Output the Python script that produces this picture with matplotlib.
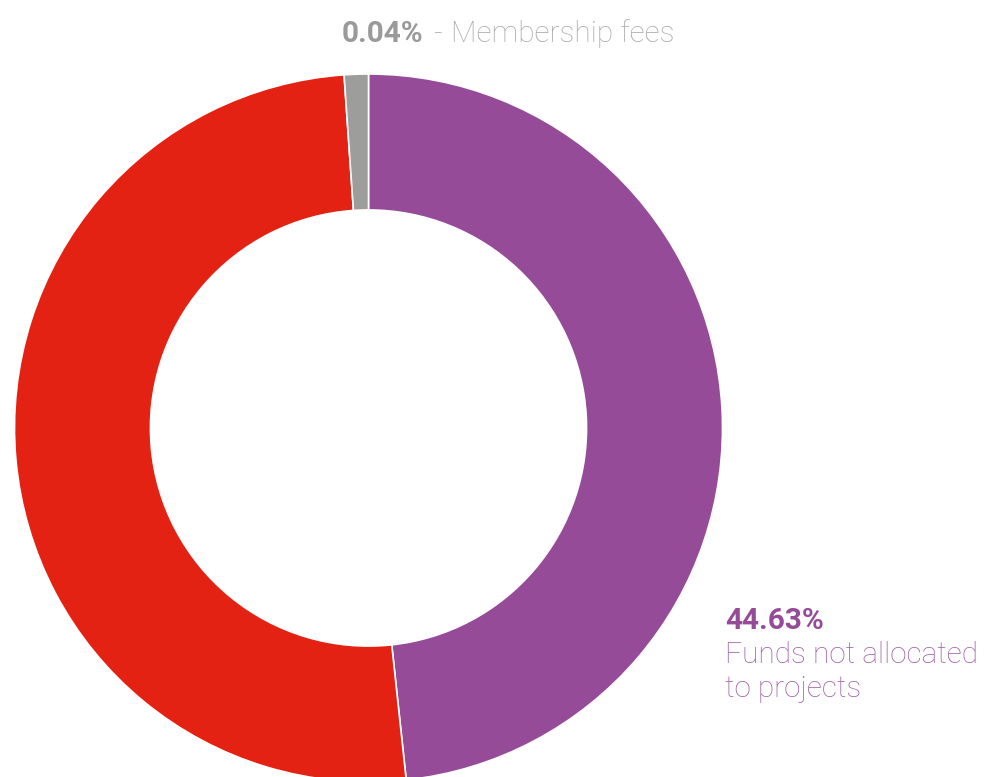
import matplotlib.pyplot as plt

# Shares (clockwise from 12 o'clock)
categories = ["Funds not allocated to projects", "Other", "Membership fees"]
shares = [48.3, 50.6, 1.1]
colors = ["#954B97", "#E32213", "#9D9D9C"]

# Label texts as printed in the chart
purple_pct = "44.63%"
purple_label = ["Funds not allocated", "to projects"]
gray_pct = "0.04%"
gray_label = "Membership fees"

plt.rcParams['font.family'] = ['Roboto', 'DejaVu Sans']

W, H = 985, 777
fig = plt.figure(figsize=(W / 100, H / 100), dpi=100)

# ring centre ~ (368.5, 428) px, outer radius ~354 px; bottom gets cut by the canvas
cx, cy, R = 368.5, 428, 354
ax = fig.add_axes([(cx - R) / W, (H - cy - R) / H, 2 * R / W, 2 * R / H])
ax.pie(shares, colors=colors, startangle=90, counterclock=False, radius=1,
       wedgeprops=dict(width=0.384, edgecolor="white", linewidth=1.2))
ax.set_xlim(-1, 1)
ax.set_ylim(-1, 1)
ax.set_aspect("equal")
ax.axis("off")

fs = 21.4

# top label
fig.text(342 / W, 1 - 42 / H, gray_pct, color="#9A9A9A", fontsize=fs,
         fontweight="bold", ha="left", va="baseline")
fig.text(433 / W, 1 - 42 / H, "-", color="#A8A8A8", fontsize=fs,
         fontweight="light", ha="left", va="baseline")
fig.text(451 / W, 1 - 42 / H, gray_label, color="#A8A8A8", fontsize=fs,
         fontweight="light", ha="left", va="baseline")

# purple label
fig.text(725 / W, 1 - 629 / H, purple_pct, color="#954B97", fontsize=fs,
         fontweight="bold", ha="left", va="baseline")
for i, line in enumerate(purple_label):
    fig.text(725 / W, 1 - (663 + 34 * i) / H, line, color="#A060A2", fontsize=fs,
             fontweight="light", ha="left", va="baseline")

fig.savefig("out.png", dpi=100)
